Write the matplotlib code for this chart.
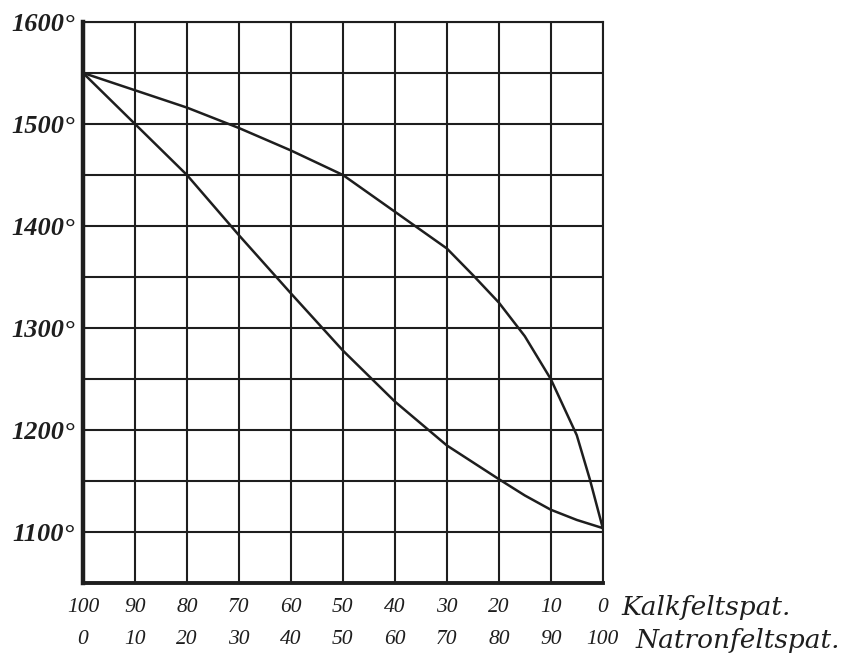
import matplotlib.pyplot as plt
import matplotlib.transforms as mtransforms

# Natronfeltspat (albite) percent, left to right; Kalkfeltspat = 100 - natron
natron = [0, 10, 20, 30, 40, 50, 60, 70, 80, 90, 100]
kalk = [100 - n for n in natron]

# upper curve (liquidus), degrees
liq_natron = [0, 10, 20, 30, 40, 50, 60, 70, 75, 80, 85, 90, 95, 97.5, 100]
liquidus = [1550, 1533, 1516, 1496, 1474, 1450, 1414, 1378, 1352, 1325,
            1292, 1250, 1195, 1152, 1104]

# lower curve (solidus), degrees
sol_natron = [0, 10, 20, 30, 40, 50, 60, 70, 80, 85, 90, 95, 100]
solidus = [1550, 1500, 1450, 1391, 1334, 1278, 1228, 1185, 1152, 1136,
           1122, 1112, 1104]

y_ticks = [1100, 1200, 1300, 1400, 1500, 1600]

ink = '#1e1e1e'
serif = ['Liberation Serif', 'DejaVu Serif']

fig = plt.figure(figsize=(8.55, 6.62), dpi=100)
ax = fig.add_axes([0.097, 0.119, 0.608, 0.848])

ax.set_xlim(0, 100)
ax.set_ylim(1050, 1600)

# grid: every 10 % and every 50 degrees
for x in natron:
    ax.axvline(x, color=ink, lw=1.5, zorder=1)
for y in range(1050, 1601, 50):
    ax.axhline(y, color=ink, lw=1.5, zorder=1)

ax.plot(liq_natron, liquidus, color=ink, lw=1.8, zorder=3)
ax.plot(sol_natron, solidus, color=ink, lw=1.8, zorder=3)

for side, w in [('left', 3.2), ('bottom', 2.8), ('top', 1.5), ('right', 1.5)]:
    ax.spines[side].set_linewidth(w)
    ax.spines[side].set_color(ink)

ax.set_yticks(y_ticks)
ax.set_yticklabels([f'{v}°' for v in y_ticks], fontfamily=serif,
                   fontstyle='italic', fontweight='bold', fontsize=19, color=ink)
ax.set_xticks(natron)
ax.set_xticklabels([f'{k}\n{n}' for k, n in zip(kalk, natron)],
                   fontfamily=serif, fontstyle='italic', fontsize=15.5,
                   color=ink, linespacing=1.9)
ax.tick_params(axis='both', length=0)
ax.tick_params(axis='x', pad=11)
ax.tick_params(axis='y', pad=6)

trans = mtransforms.blended_transform_factory(ax.transData, ax.transAxes)
ax.text(103.6, -0.043, 'Kalkfeltspat.', transform=trans, ha='left', va='center',
        fontfamily='DejaVu Serif', fontstyle='italic', fontsize=19, color=ink,
        clip_on=False)
ax.text(106.3, -0.102, 'Natronfeltspat.', transform=trans, ha='left', va='center',
        fontfamily='DejaVu Serif', fontstyle='italic', fontsize=19, color=ink,
        clip_on=False)

fig.savefig('out.png', dpi=100, facecolor='white')
